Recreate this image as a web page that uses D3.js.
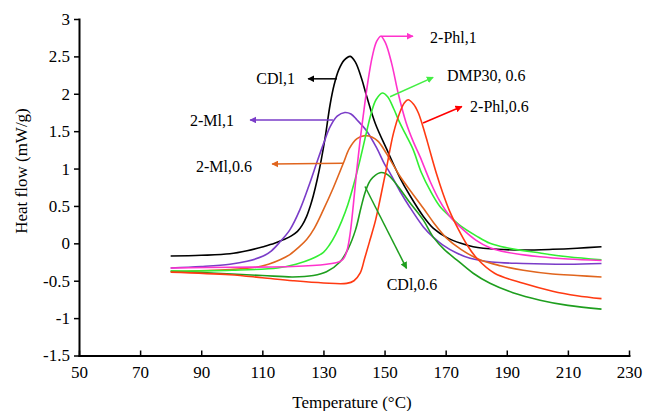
<!DOCTYPE html>
<html>
<head>
    <meta charset="utf-8">
    <title>Heat flow vs temperature</title>
    <style>
        body { margin: 0; background: #fff; }
        svg { display: block; }
        .axis path, .axis line { stroke: #000; }
        .axis path { stroke-width: 2px; }
        .axis line { stroke-width: 1.5px; }
        .axis text { font-family: "Liberation Serif", "DejaVu Serif", serif; font-size: 17px; fill: #000; }
        .title { font-family: "Liberation Serif", "DejaVu Serif", serif; font-size: 17px; fill: #000; }
        .curve { fill: none; stroke-width: 1.6px; }
        .note { font-family: "Liberation Serif", "DejaVu Serif", serif; font-size: 16px; fill: #000; }
    </style>
</head>
<body>
    <script src="https://d3js.org/d3.v7.min.js"></script>
    <script>
        const width = 646;
        const height = 411;

        const xTicks = [50, 70, 90, 110, 130, 150, 170, 190, 210, 230];
        const yTicks = [-1.5, -1, -0.5, 0, 0.5, 1, 1.5, 2, 2.5, 3];

        // [temperature, heat flow]
        const cdl1 = [[80,-0.17],[90,-0.16],[99.4,-0.14],[105,-0.1],[110.3,-0.045],[114,0.0],[117,0.05],[119.5,0.1],[121.5,0.16],[123,0.24],[124.5,0.36],[125.7,0.5],[126.7,0.64],[128,0.86],[129.2,1.1],[130.5,1.4],[132.2,1.86],[133.5,2.12],[135,2.32],[136.8,2.45],[138.8,2.5],[140.5,2.42],[142.5,2.2],[144.2,1.96],[147,1.6],[150.7,1.26],[155,0.88],[158.3,0.64],[162.7,0.36],[166,0.2],[170.3,0.08],[175,0.0],[179,-0.045],[187,-0.08],[195.4,-0.09],[205,-0.08],[213,-0.065],[221,-0.045]];
        const phl1 = [[80,-0.33],[100,-0.32],[120,-0.31],[131,-0.28],[135,-0.25],[136.5,-0.21],[137.7,-0.1],[138.7,0.12],[139.8,0.52],[140.9,0.98],[142,1.38],[143,1.7],[144.5,2.15],[146,2.5],[147.4,2.7],[148.8,2.77],[150.3,2.68],[152.3,2.41],[154.5,2.0],[157,1.62],[159.5,1.35],[161.6,1.16],[165,0.82],[168,0.57],[171.4,0.36],[175.8,0.18],[180,0.04],[184.5,-0.06],[190,-0.12],[200.9,-0.18],[210,-0.21],[221,-0.23]];
        const dmp06 = [[80,-0.37],[100,-0.36],[115,-0.33],[121,-0.28],[126,-0.21],[130,-0.12],[132,-0.02],[134,0.12],[136,0.3],[138,0.52],[140,0.8],[142,1.12],[144,1.47],[145.5,1.72],[147.2,1.92],[149.3,2.01],[151,1.96],[153,1.8],[155,1.61],[157,1.45],[159.4,1.25],[162,0.95],[165,0.7],[168,0.5],[171.4,0.36],[175,0.23],[180,0.1],[184.5,0.0],[190,-0.06],[200.9,-0.13],[210,-0.18],[221,-0.22]];
        const phl06 = [[80,-0.385],[99.4,-0.42],[110,-0.46],[120,-0.5],[130,-0.53],[137.6,-0.535],[140,-0.5],[142,-0.4],[143.5,-0.2],[145.2,0.04],[147,0.3],[148.5,0.58],[150.5,0.98],[152.9,1.47],[155,1.75],[156.5,1.88],[157.7,1.92],[159.5,1.86],[161,1.75],[162.5,1.57],[164,1.36],[165.5,1.14],[167,0.93],[169,0.68],[171.4,0.42],[174,0.2],[177,-0.02],[180.2,-0.2],[186,-0.4],[195.4,-0.535],[205,-0.64],[213,-0.7],[221,-0.74]];
        const ml1 = [[80,-0.33],[90,-0.31],[99.4,-0.28],[105,-0.24],[110.3,-0.17],[113,-0.1],[115.8,0.02],[119,0.18],[122.3,0.45],[125.5,0.8],[128,1.1],[130,1.33],[132.2,1.56],[134.5,1.7],[137,1.75],[139,1.73],[141,1.65],[144.2,1.5],[147.5,1.27],[150,1.06],[151.8,0.94],[155,0.7],[158,0.5],[162.7,0.22],[166,0.08],[169,-0.02],[173.6,-0.13],[178,-0.2],[185,-0.25],[195.4,-0.27],[210,-0.28],[221,-0.27]];
        const ml06 = [[80,-0.38],[99.4,-0.35],[108,-0.32],[112,-0.28],[115.8,-0.22],[119,-0.15],[122,-0.05],[124.5,0.05],[127,0.2],[130,0.45],[133.2,0.74],[136.5,1.07],[138.5,1.27],[141,1.4],[143.6,1.44],[146,1.42],[148,1.36],[151.8,1.12],[155,0.9],[158.5,0.7],[162.7,0.47],[166,0.28],[170.3,0.07],[175,-0.08],[181.2,-0.22],[188,-0.3],[195.4,-0.36],[205,-0.41],[213,-0.43],[221,-0.45]];
        const cdl06 = [[80,-0.37],[95,-0.4],[110,-0.43],[120,-0.45],[126.7,-0.43],[131,-0.38],[135.4,-0.25],[138,-0.08],[140.5,0.18],[142.3,0.48],[143.8,0.7],[145.5,0.85],[148.5,0.945],[150.5,0.93],[151.8,0.89],[155,0.73],[158,0.56],[162.7,0.31],[166,0.08],[169.5,-0.08],[173.6,-0.22],[179,-0.4],[184.5,-0.535],[192,-0.66],[200.9,-0.76],[210,-0.83],[221,-0.88]];

        const series = [
            { name: "CDl,1", values: cdl1, color: "#000000" },
            { name: "2-Ml,1", values: ml1, color: "#7a3cc8" },
            { name: "2-Ml,0.6", values: ml06, color: "#e0651e" },
            { name: "CDl,0.6", values: cdl06, color: "#1e9e1e" },
            { name: "DMP30, 0.6", values: dmp06, color: "#33ee33" },
            { name: "2-Phl,1", values: phl1, color: "#ff33cc" },
            { name: "2-Phl,0.6", values: phl06, color: "#ff3a12" }
        ];

        // arrow from (x1,y1) to (x2,y2), label at (tx,ty), all in data units
        const notes = [
            { text: "CDl,1", color: "#000000", x1: 134.4, y1: 2.2, x2: 125, y2: 2.2, tx: 120.7, ty: 2.21, anchor: "end" },
            { text: "2-Phl,1", color: "#ff33cc", x1: 148.8, y1: 2.77, x2: 159.3, y2: 2.77, tx: 164.9, ty: 2.76, anchor: "start" },
            { text: "DMP30, 0.6", color: "#44ee44", x1: 151.8, y1: 1.96, x2: 165.9, y2: 2.22, tx: 170.4, ty: 2.24, anchor: "start" },
            { text: "2-Phl,0.6", color: "#ff0000", x1: 162.6, y1: 1.61, x2: 175.3, y2: 1.83, tx: 178, ty: 1.83, anchor: "start" },
            { text: "2-Ml,1", color: "#7a3cc8", x1: 133.1, y1: 1.65, x2: 106, y2: 1.65, tx: 100.7, ty: 1.65, anchor: "end" },
            { text: "2-Ml,0.6", color: "#e0651e", x1: 136.5, y1: 1.07, x2: 113.2, y2: 1.06, tx: 106.6, ty: 1.03, anchor: "end" },
            { text: "CDl,0.6", color: "#1e9e1e", x1: 143.6, y1: 0.76, x2: 157.2, y2: -0.335, tx: 150.7, ty: -0.55, anchor: "start" }
        ];

        const x = d3.scaleLinear().domain([50, 230]).range([79, 629]);
        const y = d3.scaleLinear().domain([-1.5, 3]).range([355.5, 19]);

        const svg = d3.select("body").append("svg")
            .attr("width", width)
            .attr("height", height);

        const defs = svg.append("defs");
        notes.forEach((n, i) => {
            defs.append("marker")
                .attr("id", "arrow" + i)
                .attr("viewBox", "0 0 10 10")
                .attr("refX", 9)
                .attr("refY", 5)
                .attr("markerWidth", 7)
                .attr("markerHeight", 7)
                .attr("markerUnits", "userSpaceOnUse")
                .attr("orient", "auto")
                .append("path")
                .attr("d", "M0,0L10,5L0,10z")
                .attr("fill", n.color);
        });

        const line = d3.line()
            .x(d => x(d[0]))
            .y(d => y(d[1]))
            .curve(d3.curveCatmullRom.alpha(0.5));

        svg.append("g")
            .selectAll("path")
            .data(series)
            .enter().append("path")
            .attr("class", "curve")
            .attr("stroke", d => d.color)
            .attr("d", d => line(d.values));

        // axes
        svg.append("g")
            .attr("class", "axis")
            .attr("transform", `translate(0,${y(-1.5)})`)
            .call(d3.axisBottom(x).tickValues(xTicks).tickSizeInner(-5).tickSizeOuter(0).tickPadding(10).tickFormat(d => String(d)));

        svg.append("g")
            .attr("class", "axis")
            .attr("transform", `translate(${x(50)},0)`)
            .call(d3.axisLeft(y).tickValues(yTicks).tickSizeInner(5).tickSizeOuter(0).tickPadding(4).tickFormat(d => String(d)));

        svg.selectAll(".axis .domain").attr("stroke-linecap", "square");

        // annotations
        const note = svg.append("g");
        note.selectAll("line")
            .data(notes)
            .enter().append("line")
            .attr("x1", d => x(d.x1))
            .attr("y1", d => y(d.y1))
            .attr("x2", d => x(d.x2))
            .attr("y2", d => y(d.y2))
            .attr("stroke", d => d.color)
            .attr("stroke-width", 1.5)
            .attr("marker-end", (d, i) => `url(#arrow${i})`);

        note.selectAll("text")
            .data(notes)
            .enter().append("text")
            .attr("class", "note")
            .attr("x", d => x(d.tx))
            .attr("y", d => y(d.ty))
            .attr("dy", "0.35em")
            .attr("text-anchor", d => d.anchor)
            .text(d => d.text);

        svg.append("text")
            .attr("class", "title")
            .attr("text-anchor", "middle")
            .attr("x", 352)
            .attr("y", 408)
            .text("Temperature (°C)");

        svg.append("text")
            .attr("class", "title")
            .attr("text-anchor", "middle")
            .attr("transform", "translate(27,171) rotate(-90)")
            .text("Heat flow (mW/g)");
    </script>
</body>
</html>
